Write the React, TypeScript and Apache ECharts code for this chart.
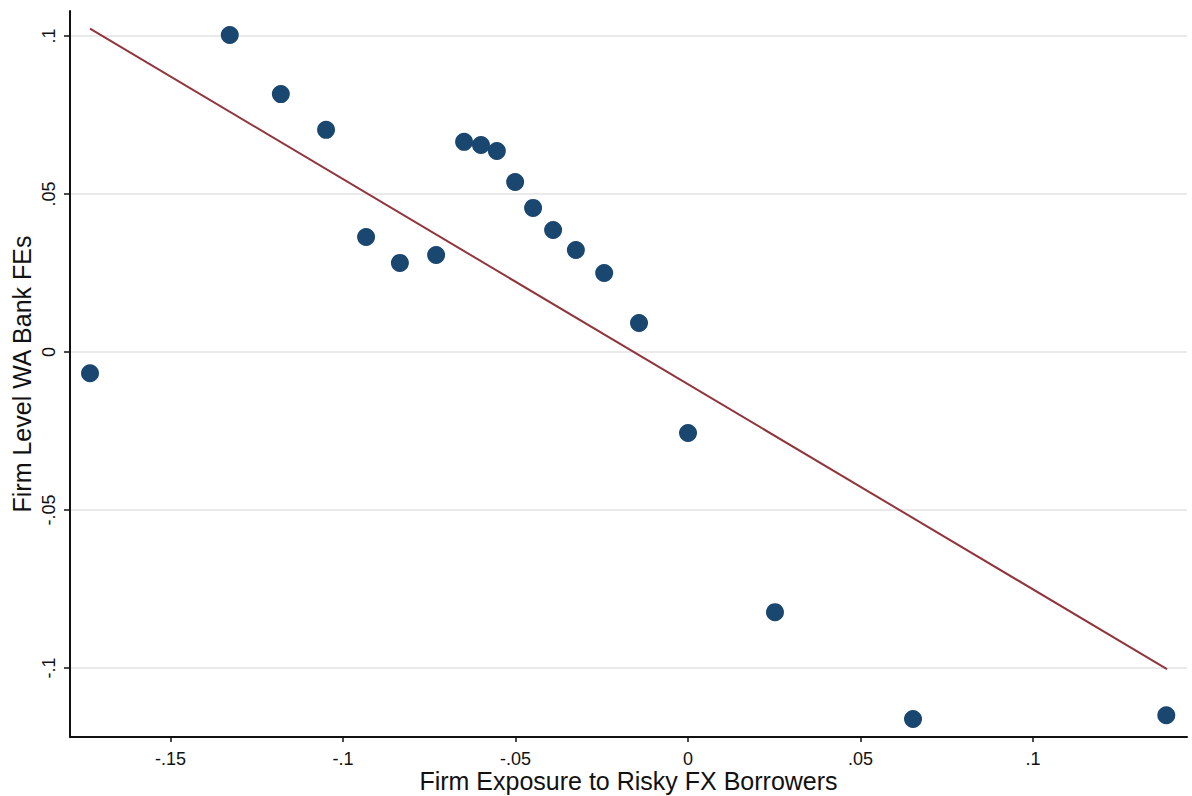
import React, { useEffect, useRef } from "react";
import * as echarts from "echarts";

const binX = [-0.1733, -0.1328, -0.118, -0.1049, -0.0933, -0.0835, -0.073, -0.0649, -0.06, -0.0554, -0.0501, -0.0449, -0.0391, -0.0325, -0.0243, -0.0142, 0.0, 0.0252, 0.0652, 0.1386];
const binY = [-0.0067, 0.1003, 0.0816, 0.0703, 0.0364, 0.0282, 0.0307, 0.0665, 0.0655, 0.0636, 0.0538, 0.0456, 0.0386, 0.0323, 0.025, 0.0092, -0.0256, -0.0823, -0.1161, -0.1149];
const fitX = [-0.1733, 0.1388];
const fitY = [0.1023, -0.1003];
const xTicks = [-0.15, -0.1, -0.05, 0, 0.05, 0.1];
const yTicks = [-0.1, -0.05, 0, 0.05, 0.1];
const xTitle = "Firm Exposure to Risky FX Borrowers";
const yTitle = "Firm Level WA Bank FEs";

const fmt = (v: number) => {
  if (Math.abs(v) < 1e-9) return "0";
  const s = String(Math.round(v * 1000) / 1000);
  return s.replace("0.", ".");
};

export default function App() {
  const ref = useRef<HTMLDivElement>(null);
  useEffect(() => {
    if (!ref.current) return;
    const chart = echarts.init(ref.current, undefined, { renderer: "svg" });
    const font = "'Liberation Sans', Arial, sans-serif";
    chart.setOption({
      animation: false,
      backgroundColor: "#ffffff",
      grid: { left: 70, right: 5, top: 11, bottom: 59, containLabel: false, outerBoundsMode: "none" },
      xAxis: {
        type: "value",
        min: -0.1791,
        max: 0.1446,
        name: xTitle,
        nameLocation: "middle",
        nameGap: 34,
        nameMoveOverlap: false,
        nameTextStyle: { fontFamily: font, fontSize: 25, lineHeight: 20, color: "#111" },
        axisLine: { show: true, onZero: false, lineStyle: { color: "#111", width: 2 } },
        axisTick: { show: true, length: 5, customValues: xTicks, lineStyle: { color: "#111", width: 1.5 } },
        axisLabel: { customValues: xTicks, formatter: fmt, fontFamily: font, fontSize: 18, lineHeight: 14, color: "#111", margin: 15 },
        splitLine: { show: false },
      },
      yAxis: {
        type: "value",
        min: -0.1218,
        max: 0.1079,
        name: yTitle,
        nameLocation: "middle",
        nameGap: 36,
        nameMoveOverlap: false,
        nameTextStyle: { fontFamily: font, fontSize: 25, color: "#111" },
        axisLine: { show: true, onZero: false, lineStyle: { color: "#111", width: 2 } },
        axisTick: { show: true, length: 6, customValues: yTicks, lineStyle: { color: "#111", width: 1.5 } },
        axisLabel: { customValues: yTicks, formatter: fmt, rotate: 90, fontFamily: font, fontSize: 18, color: "#111", margin: 12 },
        splitLine: { show: true, lineStyle: { color: "#eaeaea", width: 2 } },
      },
      series: [
        {
          type: "scatter",
          data: binX.map((x, i) => [x, binY[i]]),
          symbol: "circle",
          symbolSize: 18,
          itemStyle: { color: "#1a476f", opacity: 1 },
          z: 3,
        },
        {
          type: "line",
          data: fitX.map((x, i) => [x, fitY[i]]),
          symbol: "none",
          lineStyle: { color: "#90353b", width: 2 },
          z: 4,
        },
      ],
    });
    return () => chart.dispose();
  }, []);
  return <div ref={ref} style={{ position: "fixed", left: 0, top: 0, width: 1192, height: 796 }} />;
}
